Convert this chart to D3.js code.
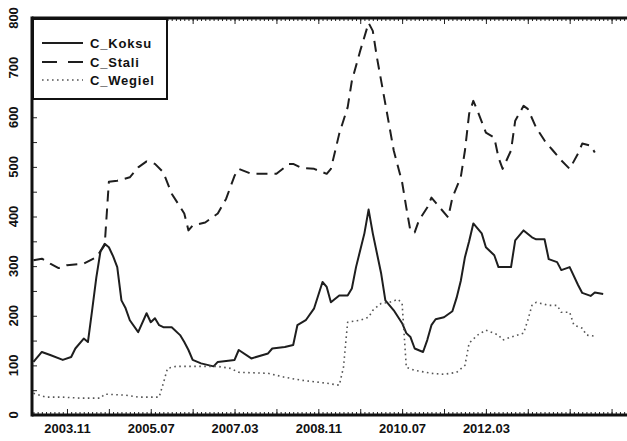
<!DOCTYPE html>
<html><head><meta charset="utf-8">
<script src="https://cdn.jsdelivr.net/npm/d3@7"></script>
<style>html,body{margin:0;padding:0;background:#fff;}svg{display:block;}</style>
</head><body>
<svg id="chart" width="627" height="441"></svg>
<script>
// ---- data ----
const seriesNames = ["C_Koksu", "C_Stali", "C_Wegiel"];

const koksuDates = ["2003.03","2003.05","2003.07","2003.10","2003.12","2004.01","2004.03","2004.04","2004.05","2004.06","2004.07","2004.08","2004.09","2004.10","2004.11","2004.12","2005.01","2005.02","2005.04","2005.06","2005.07","2005.08","2005.09","2005.10","2005.12","2006.02","2006.03","2006.04","2006.05","2006.07","2006.10","2006.11","2007.01","2007.03","2007.04","2007.07","2007.11","2007.12","2008.03","2008.05","2008.06","2008.08","2008.10","2008.12","2009.01","2009.02","2009.04","2009.06","2009.07","2009.08","2009.10","2009.11","2009.12","2010.02","2010.03","2010.05","2010.07","2010.08","2010.09","2010.10","2010.12","2011.01","2011.02","2011.03","2011.05","2011.07","2011.08","2011.09","2011.10","2011.11","2011.12","2012.02","2012.03","2012.05","2012.06","2012.07","2012.09","2012.10","2012.12","2013.02","2013.03","2013.05","2013.06","2013.08","2013.09","2013.11","2014.01","2014.02","2014.04","2014.05","2014.07"];
const koksuValues = [107,127,121,111,117,134,154,147,211,277,330,345,338,320,298,231,215,191,167,205,187,195,181,177,177,161,147,131,111,104,98,107,109,111,131,114,124,134,137,141,181,191,215,268,258,227,241,241,255,298,366,414,366,285,231,211,185,165,157,134,127,151,181,193,197,209,236,270,318,350,386,366,338,322,298,298,298,352,372,358,354,354,314,308,292,298,262,246,240,247,244];

const staliDates = ["2003.03","2003.05","2003.07","2003.09","2003.11","2004.03","2004.06","2004.08","2004.09","2004.11","2005.02","2005.04","2005.06","2005.08","2005.10","2005.12","2006.03","2006.04","2006.05","2006.08","2006.11","2007.01","2007.03","2007.04","2007.07","2007.09","2008.01","2008.04","2008.05","2008.07","2008.10","2009.01","2009.02","2009.04","2009.06","2009.07","2009.09","2009.11","2009.12","2010.01","2010.03","2010.05","2010.07","2010.08","2010.09","2010.10","2010.11","2011.01","2011.02","2011.04","2011.06","2011.07","2011.09","2011.10","2011.11","2011.12","2012.01","2012.03","2012.05","2012.06","2012.07","2012.09","2012.10","2012.12","2013.01","2013.03","2013.05","2013.07","2013.09","2013.11","2014.01","2014.02","2014.04","2014.05"];
const staliValues = [312,315,305,296,302,305,318,342,470,472,479,499,511,506,489,446,406,372,382,388,406,436,482,496,486,486,486,506,506,498,496,486,496,567,620,673,734,790,774,720,627,533,469,418,370,368,392,418,438,418,398,438,479,533,607,633,613,569,559,519,496,533,593,623,617,579,553,533,513,496,527,547,543,529];

const weglelDates = ["2003.03","2003.06","2003.10","2004.02","2004.07","2004.08","2005.01","2005.04","2005.09","2005.10","2005.11","2006.01","2006.06","2006.11","2007.02","2007.04","2007.11","2008.03","2008.07","2009.01","2009.04","2009.05","2009.06","2009.09","2009.11","2009.12","2010.02","2010.04","2010.06","2010.07","2010.08","2010.10","2011.02","2011.05","2011.08","2011.10","2011.11","2012.01","2012.03","2012.06","2012.07","2012.09","2012.12","2013.01","2013.02","2013.03","2013.06","2013.08","2013.09","2013.11","2013.12","2014.02","2014.03","2014.05"];
const weglelValues = [44,36,36,34,34,42,40,36,36,64,94,98,98,98,94,86,84,76,70,64,60,96,187,191,197,211,225,227,233,225,96,90,84,82,86,100,145,161,171,161,151,157,165,191,221,227,221,221,207,207,181,175,161,159];

const xTickLabels = ["2003.11","2005.07","2007.03","2008.11","2010.07","2012.03"];
const yTickValues = [0,100,200,300,400,500,600,700,800];

// ---- helpers ----
function monthIndex(s){ const [y,m] = s.split("."); return (+y - 2003)*12 + (+m - 1); }

const svg = d3.select("#chart");
const L = 32, R = 630, T = 18, B = 415;
const x = d3.scaleLinear().domain([1.65, 144.4]).range([L, R]);
const y = d3.scaleLinear().domain([0, 800]).range([B, T]);

const font = "'Liberation Sans', Arial, sans-serif";

// ---- series ----
const line = d3.line().x(d => x(d[0])).y(d => y(d[1]));
function pts(dates, vals){ return dates.map((d,i) => [monthIndex(d), vals[i]]); }

const styles = [
  {dash: null, color: "#1e1e1e", w: 2},
  {dash: "11,7", color: "#1e1e1e", w: 2},
  {dash: "1.6,3.4", color: "#555", w: 1.6}
];
const data = [pts(koksuDates,koksuValues), pts(staliDates,staliValues), pts(weglelDates,weglelValues)];

const plot = svg.append("g");
data.forEach((d,i) => {
  plot.append("path").datum(d).attr("d", line)
    .attr("fill","none").attr("stroke",styles[i].color)
    .attr("stroke-width",styles[i].w)
    .attr("stroke-dasharray",styles[i].dash)
    .attr("stroke-linejoin","round");
});

// ---- axes ----
const monthTicks = d3.range(2, 145);
const majorTicks = d3.range(10, 145, 10);

function styleAxis(g){ g.select(".domain").remove(); g.selectAll("line").attr("stroke","#222").attr("stroke-width",1); }

// bottom minor/major ticks
svg.append("g").attr("transform",`translate(0,${B})`)
  .call(d3.axisBottom(x).tickValues(monthTicks).tickSize(-3).tickFormat("")).call(styleAxis);
svg.append("g").attr("transform",`translate(0,${B})`)
  .call(d3.axisBottom(x).tickValues(majorTicks).tickSize(-6).tickFormat("")).call(styleAxis);
// top
svg.append("g").attr("transform",`translate(0,${T})`)
  .call(d3.axisTop(x).tickValues(monthTicks).tickSize(-3).tickFormat("")).call(styleAxis);
svg.append("g").attr("transform",`translate(0,${T})`)
  .call(d3.axisTop(x).tickValues(majorTicks).tickSize(-6).tickFormat("")).call(styleAxis);

// bottom labels
const xLab = svg.append("g").attr("transform",`translate(0,${B})`)
  .call(d3.axisBottom(x).tickValues(xTickLabels.map(monthIndex)).tickSize(0).tickPadding(9)
    .tickFormat((d,i) => xTickLabels[i]));
xLab.select(".domain").remove();
xLab.selectAll("text").attr("font-family",font).attr("font-size",13).attr("font-weight","bold").attr("fill","#111");

// left axis ticks
svg.append("g").attr("transform",`translate(${L},0)`)
  .call(d3.axisLeft(y).tickValues(d3.range(0, 801, 50)).tickSize(-5).tickFormat("")).call(styleAxis);

// left labels (rotated)
svg.append("g").selectAll("text").data(yTickValues).join("text")
  .attr("transform", d => `translate(18,${y(d)}) rotate(-90)`)
  .attr("text-anchor","middle")
  .attr("font-family",font).attr("font-size",13).attr("font-weight","bold").attr("fill","#111")
  .text(d => d);

// frame lines
svg.append("line").attr("x1",L).attr("x2",L).attr("y1",T-1.5).attr("y2",B+1.5).attr("stroke","#111").attr("stroke-width",3);
svg.append("line").attr("x1",L).attr("x2",627).attr("y1",B).attr("y2",B).attr("stroke","#111").attr("stroke-width",3);
svg.append("line").attr("x1",L).attr("x2",627).attr("y1",T).attr("y2",T).attr("stroke","#111").attr("stroke-width",3);

// ---- legend ----
const lg = svg.append("g");
lg.append("rect").attr("x",L+1).attr("y",T+1).attr("width",134).attr("height",80)
  .attr("fill","#fff").attr("stroke","#111").attr("stroke-width",2);
const rowY = [43, 62, 80];
seriesNames.forEach((n,i) => {
  lg.append("line").attr("x1",42).attr("x2",83).attr("y1",rowY[i]).attr("y2",rowY[i])
    .attr("stroke",styles[i].color).attr("stroke-width",styles[i].w)
    .attr("stroke-dasharray", i===1 ? "15,11" : styles[i].dash);
  lg.append("text").attr("x",90).attr("y",rowY[i]+4.5)
    .attr("font-family",font).attr("font-size",13).attr("font-weight","bold")
    .attr("letter-spacing",0.8).attr("fill","#111").text(n);
});
</script>
</body></html>
